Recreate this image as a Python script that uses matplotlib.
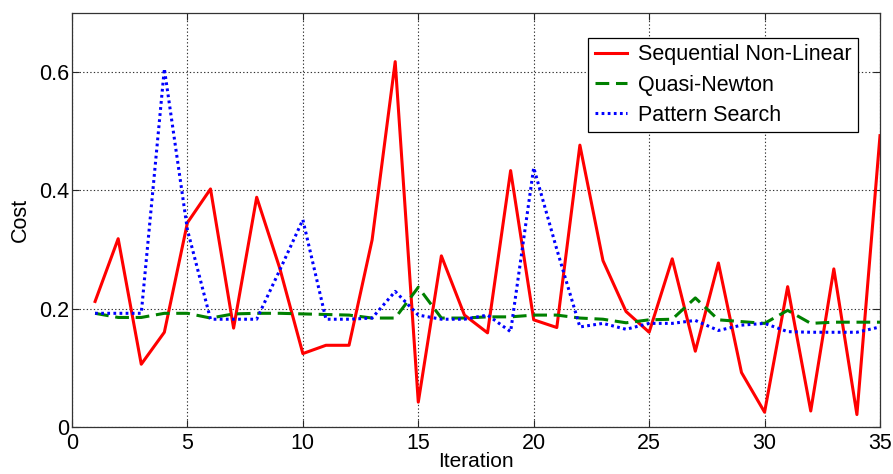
import matplotlib
matplotlib.use("Agg")
import matplotlib.pyplot as plt

plt.rcParams["font.family"] = ["Liberation Sans", "DejaVu Sans"]

# iteration numbers
iterations = list(range(1, 36))

# cost per iteration
sqp_cost = [0.212, 0.318, 0.106, 0.160, 0.345, 0.402, 0.167, 0.388, 0.268, 0.124,
            0.138, 0.138, 0.316, 0.617, 0.042, 0.289, 0.189, 0.159, 0.433, 0.181,
            0.168, 0.476, 0.281, 0.195, 0.160, 0.284, 0.128, 0.277, 0.092, 0.025,
            0.237, 0.027, 0.267, 0.021, 0.492]
quasi_newton_cost = [0.192, 0.185, 0.185, 0.192, 0.192, 0.184, 0.191, 0.192, 0.192, 0.191,
                     0.190, 0.189, 0.184, 0.184, 0.236, 0.184, 0.184, 0.186, 0.186, 0.189,
                     0.189, 0.184, 0.182, 0.176, 0.181, 0.182, 0.218, 0.181, 0.178, 0.175,
                     0.197, 0.175, 0.177, 0.177, 0.177]
pattern_cost = [0.192, 0.192, 0.192, 0.605, 0.333, 0.182, 0.182, 0.182, 0.265, 0.350,
                0.182, 0.182, 0.184, 0.229, 0.189, 0.182, 0.182, 0.189, 0.161, 0.438,
                0.300, 0.169, 0.175, 0.165, 0.175, 0.175, 0.180, 0.163, 0.172, 0.175,
                0.161, 0.160, 0.160, 0.160, 0.169]

series_names = ["Sequential Non-Linear", "Quasi-Newton", "Pattern Search"]
x_ticks = [0, 5, 10, 15, 20, 25, 30, 35]
y_ticks = [0, 0.2, 0.4, 0.6]
y_tick_labels = ["0", "0.2", "0.4", "0.6"]

fig = plt.figure(figsize=(8.93, 4.74), dpi=100)
ax = fig.add_axes([72 / 893, 1 - 427 / 474, (880 - 72) / 893, (427 - 12.5) / 474])

ax.plot(iterations, sqp_cost, color="#ff0000", lw=2.2, label=series_names[0])
ax.plot(iterations, quasi_newton_cost, color="#008000", lw=2.2,
        dashes=(4.5, 2.2), label=series_names[1])
ax.plot(iterations, pattern_cost, color="#0000ff", lw=2.2,
        dashes=(0.9, 1.1), label=series_names[2])

ax.set_xlim(0, 35)
ax.set_ylim(0, 0.7)
ax.set_xticks(x_ticks)
ax.set_yticks(y_ticks)
ax.set_yticklabels(y_tick_labels)
ax.tick_params(direction="in", length=5, width=0.8, labelsize=15.5,
               top=True, right=True, colors="0.15", labelcolor="black")
ax.tick_params(axis="y", pad=2)
ax.tick_params(axis="x", pad=4.5)
ax.grid(True, color="0.2", linestyle=(0, (1.2, 2.0)), linewidth=0.8)
for sp in ax.spines.values():
    sp.set_color("0.2")
    sp.set_linewidth(0.9)

ax.set_xlabel("Iteration", fontsize=15, labelpad=-1.5)
ax.set_ylabel("Cost", fontsize=15.5, labelpad=6)

leg = ax.legend(loc="upper right", bbox_to_anchor=(858 / 893, 1 - 38 / 474),
                bbox_transform=fig.transFigure, fontsize=15.5, frameon=True,
                fancybox=False, framealpha=1, edgecolor="black",
                handlelength=1.5, handletextpad=0.5, borderpad=0.3,
                labelspacing=0.42, borderaxespad=0)
leg.get_frame().set_linewidth(0.9)

fig.savefig("out.png", dpi=100)
